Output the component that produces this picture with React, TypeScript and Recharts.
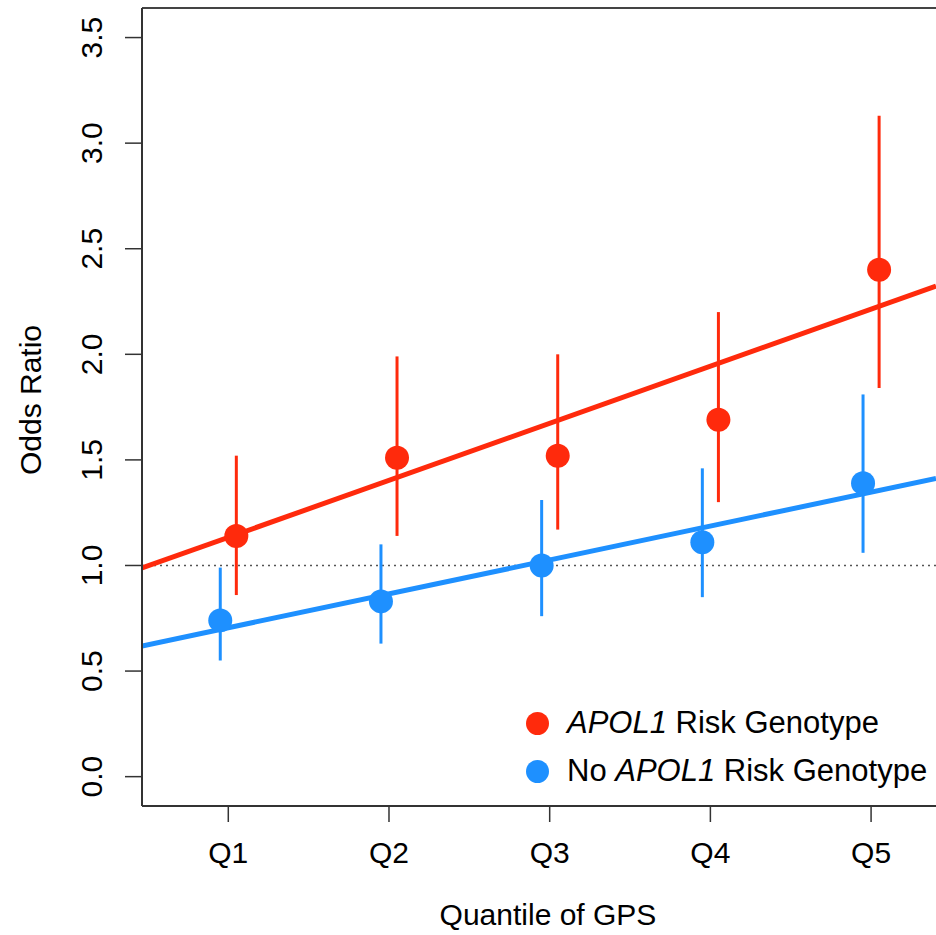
import { ComposedChart, Line, Scatter, ErrorBar, XAxis, YAxis, ReferenceLine } from "recharts";

const quantiles = ["Q1", "Q2", "Q3", "Q4", "Q5"];

const riskOR = [1.14, 1.51, 1.52, 1.69, 2.4];
const riskLow = [0.86, 1.14, 1.17, 1.3, 1.84];
const riskHigh = [1.52, 1.99, 2.0, 2.2, 3.13];

const noRiskOR = [0.74, 0.83, 1.0, 1.11, 1.39];
const noRiskLow = [0.55, 0.63, 0.76, 0.85, 1.06];
const noRiskHigh = [0.99, 1.1, 1.31, 1.46, 1.81];

// fitted trend lines, read at the left and right edges of the plot
const fitX = [0.463, 5.404];
const riskFitY = [0.988, 2.323];
const noRiskFitY = [0.619, 1.412];

const yTicks = [0, 0.5, 1, 1.5, 2, 2.5, 3, 3.5];
const xDomain = [0.463, 5.404];
const yDomain = [-0.139, 3.64];

const RED = "#ff2a0c";
const BLUE = "#1e90ff";
const FONT = "'Liberation Sans', Arial, Helvetica, sans-serif";

const dodge = 0.05;
const riskData = quantiles.map((q, i) => ({
  x: i + 1 + dodge,
  y: riskOR[i],
  err: [riskOR[i] - riskLow[i], riskHigh[i] - riskOR[i]],
}));
const noRiskData = quantiles.map((q, i) => ({
  x: i + 1 - dodge,
  y: noRiskOR[i],
  err: [noRiskOR[i] - noRiskLow[i], noRiskHigh[i] - noRiskOR[i]],
}));
const riskFit = fitX.map((x, i) => ({ x, y: riskFitY[i] }));
const noRiskFit = fitX.map((x, i) => ({ x, y: noRiskFitY[i] }));

const YTick = (props: any) => {
  const { y, payload } = props;
  return (
    <text
      x={92}
      y={y}
      transform={`rotate(-90, 92, ${y})`}
      textAnchor="middle"
      dominantBaseline="central"
      fontSize={30}
      fontFamily={FONT}
      fill="#000"
    >
      {payload.value.toFixed(1)}
    </text>
  );
};

const dot = (color: string) => (props: any) => (
  <circle cx={props.cx} cy={props.cy} r={12} fill={color} />
);

export default function App() {
  return (
    <div style={{ position: "absolute", left: 0, top: 0, width: 936, height: 935, background: "#fff" }}>
      <ComposedChart width={936} height={935} margin={{ top: 8, right: 0, bottom: 0, left: 0 }}>
        <XAxis
          type="number"
          dataKey="x"
          domain={xDomain}
          allowDataOverflow
          ticks={[1, 2, 3, 4, 5]}
          tickFormatter={(v: number) => quantiles[v - 1]}
          height={129}
          tickSize={16}
          tickMargin={20}
          tick={{ fontSize: 30, fill: "#000", fontFamily: FONT }}
          axisLine={{ stroke: "#333", strokeWidth: 2 }}
          tickLine={{ stroke: "#333", strokeWidth: 1.5 }}
          label={() => (
            <text x={548} y={925} textAnchor="middle" fontSize={30} fontFamily={FONT} fill="#000">
              Quantile of GPS
            </text>
          )}
        />
        <YAxis
          type="number"
          dataKey="y"
          domain={yDomain}
          allowDataOverflow
          ticks={yTicks}
          width={142}
          tickSize={17}
          tick={<YTick />}
          axisLine={{ stroke: "#333", strokeWidth: 2 }}
          tickLine={{ stroke: "#333", strokeWidth: 1.5 }}
          label={() => (
            <text
              x={30}
              y={400}
              transform="rotate(-90, 30, 400)"
              textAnchor="middle"
              dominantBaseline="central"
              fontSize={30}
              fontFamily={FONT}
              fill="#000"
            >
              Odds Ratio
            </text>
          )}
        />
        <ReferenceLine y={yDomain[1]} stroke="#444" strokeWidth={2} />
        <ReferenceLine y={1} stroke="#555" strokeWidth={1.5} strokeDasharray="2 4" />
        <Line data={riskFit} dataKey="y" type="linear" stroke={RED} strokeWidth={5} dot={false} isAnimationActive={false} />
        <Line data={noRiskFit} dataKey="y" type="linear" stroke={BLUE} strokeWidth={5} dot={false} isAnimationActive={false} />
        <Scatter data={riskData} dataKey="y" fill={RED} shape={dot(RED)} isAnimationActive={false}>
          <ErrorBar dataKey="err" direction="y" width={0} stroke={RED} strokeWidth={3} isAnimationActive={false} />
        </Scatter>
        <Scatter data={noRiskData} dataKey="y" fill={BLUE} shape={dot(BLUE)} isAnimationActive={false}>
          <ErrorBar dataKey="err" direction="y" width={0} stroke={BLUE} strokeWidth={3} isAnimationActive={false} />
        </Scatter>
      </ComposedChart>
      <div style={{ position: "absolute", left: 526, top: 699, fontFamily: FONT, fontSize: 31, color: "#000", lineHeight: "48px" }}>
        <div style={{ display: "flex", alignItems: "center" }}>
          <span style={{ width: 23, height: 23, borderRadius: "50%", background: RED, display: "inline-block", marginRight: 18 }} />
          <span><i>APOL1</i> Risk Genotype</span>
        </div>
        <div style={{ display: "flex", alignItems: "center" }}>
          <span style={{ width: 23, height: 23, borderRadius: "50%", background: BLUE, display: "inline-block", marginRight: 18 }} />
          <span>No <i>APOL1</i> Risk Genotype</span>
        </div>
      </div>
    </div>
  );
}
